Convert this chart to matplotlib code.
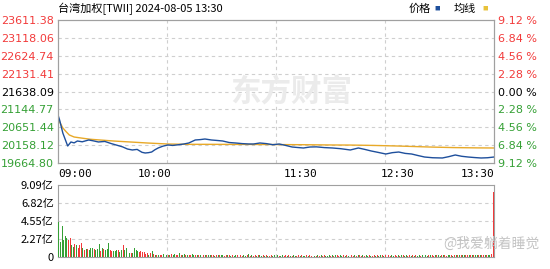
import matplotlib
matplotlib.use("Agg")
import matplotlib.pyplot as plt
import numpy as np

plt.rcParams['font.family'] = ['Noto Sans CJK SC', 'DejaVu Sans']

# 基本信息
title = "台湾加权[TWII] 2024-08-05 13:30"
prev_close = 21638.09
price_ticks = [23611.38, 23118.06, 22624.74, 22131.41, 21638.09,
               21144.77, 20651.44, 20158.12, 19664.80]

# 分时价格 (分钟, 点位)
t_price = [0, 1, 3, 6, 8, 10, 12, 15, 19, 22, 25, 29, 33, 36, 40, 43, 46, 49,
           52, 54, 56, 58, 60, 62, 65, 68, 71, 74, 78, 81, 85, 88, 91, 95, 99,
           102, 106, 110, 114, 118, 121, 125, 129, 133, 137, 141, 145, 149, 152,
           156, 160, 165, 170, 175, 181, 186, 190, 194, 198, 203, 207, 211, 215,
           219, 223, 227, 232, 238, 242, 246, 250, 254, 258, 262, 266, 270]
price = [20990, 20850, 20490, 20134, 20244, 20220, 20272, 20250, 20300, 20275,
         20245, 20260, 20200, 20162, 20110, 20051, 20024, 20040, 19960, 19941,
         19950, 19968, 20030, 20079, 20130, 20162, 20150, 20165, 20190, 20217,
         20300, 20310, 20327, 20300, 20285, 20272, 20230, 20217, 20200, 20190,
         20189, 20217, 20200, 20170, 20189, 20150, 20106, 20090, 20079, 20106,
         20110, 20090, 20079, 20060, 20024, 20079, 20040, 19996, 19960, 19913,
         19950, 19968, 19930, 19913, 19870, 19830, 19810, 19803, 19840, 19886,
         19850, 19830, 19815, 19803, 19810, 19830]

# 均线
t_avg = [0, 1, 3, 5, 7, 10, 15, 20, 26, 35, 45, 56, 68, 80, 91, 110, 130, 150,
         170, 181, 195, 210, 230, 245, 260, 270]
avg = [20907, 20800, 20631, 20530, 20438, 20382, 20350, 20320, 20300, 20270,
       20244, 20215, 20189, 20180, 20180, 20178, 20175, 20170, 20162, 20160,
       20150, 20134, 20106, 20090, 20082, 20079]

# 成交额 (亿), 每分钟一根
vol = [4.45, 1.93, 3.90, 2.10, 2.60, 2.40, 2.10, 2.40, 1.50, 1.30,
       1.60, 1.50, 1.10, 1.50, 1.80, 1.10, 0.90, 1.00, 1.00, 0.90,
       1.10, 1.10, 1.00, 0.85, 1.00, 1.60, 0.80, 1.10, 1.00, 0.90,
       0.95, 1.80, 0.90, 0.80, 0.75, 0.75, 0.90, 0.85, 0.60, 0.90,
       1.50, 0.90, 1.10, 0.60, 0.50, 0.50, 0.50, 1.10, 0.90, 0.75,
       0.60, 0.75, 0.65, 0.60, 0.40, 0.50, 0.30, 0.45, 0.75, 0.35,
       0.30, 0.25, 0.30, 0.30, 0.25, 0.35, 0.20, 0.30,
       0.30, 0.25, 0.40, 0.30, 0.35, 0.25, 0.30, 0.45, 0.30, 0.25, 0.35, 0.30, 0.25, 0.20, 0.30, 0.35, 0.25, 0.20, 0.30, 0.25,
       0.20, 0.25, 0.30, 0.20, 0.25, 0.20, 0.30, 0.25, 0.20, 0.15, 0.20, 0.25, 0.20, 0.30, 0.20, 0.15, 0.20, 0.25, 0.20, 0.15,
       0.20, 0.15, 0.20, 0.25, 0.15, 0.20, 0.15, 0.20, 0.15, 0.20, 0.35, 0.15, 0.20, 0.15, 0.20, 0.15, 0.20, 0.25, 0.15, 0.20,
       0.15, 0.20, 0.15, 0.15, 0.20, 0.15, 0.20, 0.15, 0.20, 0.15, 0.15, 0.20, 0.15, 0.20, 0.15, 0.20, 0.15, 0.15, 0.20, 0.15,
       0.15, 0.20, 0.15, 0.20, 0.15, 0.15, 0.20, 0.15, 0.20, 0.15, 0.20, 0.15, 0.15, 0.20, 0.15, 0.20, 0.15, 0.20, 0.15, 0.15,
       0.20, 0.15, 0.20, 0.15, 0.20, 0.25, 0.15, 0.20, 0.15, 0.20, 0.15, 0.20, 0.15, 0.15, 0.20, 0.15, 0.20, 0.15, 0.20, 0.30,
       0.15, 0.20, 0.15, 0.20, 0.15, 0.20, 0.15, 0.15, 0.20, 0.15, 0.20, 0.15, 0.20, 0.25, 0.15, 0.20, 0.15, 0.20, 0.15, 0.20,
       0.15, 0.20, 0.15, 0.20, 0.15, 0.20, 0.25, 0.15, 0.20, 0.15, 0.20, 0.15, 0.20, 0.15, 0.20, 0.15, 0.20, 0.15, 0.20, 0.15,
       0.20, 0.15, 0.20, 0.25, 0.20, 0.15, 0.20, 0.30, 0.20, 0.15, 0.20, 0.25, 0.20, 0.15, 0.20, 0.25, 0.20, 0.15, 0.20, 0.25,
       0.20, 0.25, 0.30, 0.20, 0.25, 0.20, 0.30, 0.25, 0.20, 0.25, 0.30, 0.25, 0.20, 0.25, 0.30, 0.25, 0.20, 0.25, 0.30, 0.25,
       0.30, 0.35,
       8.25]
# 涨跌方向: R 红 / G 绿
vol_dir = ("GGGGGGRRGG" "RGRRRGRGRG" "GGRGGGRGRG" "GGRRGGGRGG" "RGGRGRGGGG" "RRRRRRGRGR" "GRGRRGRG"
           "RGRGGRRGRGGRGRRGGRGR" "GRRGRGGRRGRGRGGRRGRG" "RGGRGRRGGRGRGRRGRGGR"
           "GRGRRGGRGRGGRRGRGRGG" "RRGRGGRGRRGGRGRGRRGG" "GRGRGRRGGRGRGGRRGRGR"
           "RGRGGRGRRGRGGRGRGRRG" "GRRGRGRGGRRGRGRGGRGR" "GGRGRRGRGGRGRRGGRGRG"
           "RGRGGRRGRGRGGRGRRGRG" "GR" "R")
vol_ticks = [0, 2.27, 4.55, 6.82, 9.09]
vol_labels = ["0", "2.27亿", "4.55亿", "6.82亿", "9.09亿"]

time_pos = [0, 60, 150, 210, 270]
time_labels = ["09:00", "10:00", "11:30", "12:30", "13:30"]

RED = '#f23a3a'
GREEN = '#35a035'
GRID = '#cfcfcf'

fig = plt.figure(figsize=(5.5, 2.69), dpi=100)
ax = fig.add_axes([58/550, 1-163/269, 436/550, 143/269])
axv = fig.add_axes([58/550, 1-257/269, 436/550, 72/269])

# 水印
fig.text(0.53, 1-92/269, "东方财富", fontsize=22, fontweight='bold',
         color='#ebebeb', ha='center', va='center', zorder=0)

ax.plot(t_price, price, color='#1e4f9c', lw=1.0, zorder=3)
ax.plot(t_avg, avg, color='#e8a928', lw=1.0, zorder=2)
ax.set_xlim(0, 270)
ax.set_ylim(price_ticks[-1], price_ticks[0])
ax.set_yticks(price_ticks)
ax.set_yticklabels([f"{v:.2f}" for v in price_ticks], family='DejaVu Sans', fontsize=8)
for lab, v in zip(ax.get_yticklabels(), price_ticks):
    lab.set_color(RED if v > prev_close + 0.01 else (GREEN if v < prev_close - 0.01 else 'black'))
ax.tick_params(axis='y', length=0, pad=3)
ax.set_xticks([])
for v in price_ticks[1:-1]:
    ax.axhline(v, color=GRID, lw=0.8, ls=(0, (3, 3)), zorder=1)
for q in [67.5, 135, 202.5]:
    ax.axvline(q, color=GRID, lw=0.8, ls=(0, (3, 3)), zorder=1)
ax.patch.set_alpha(0)

axr = ax.twinx()
axr.set_ylim(ax.get_ylim())
axr.set_yticks(price_ticks)
pct = [(v / prev_close - 1) * 100 for v in price_ticks]
axr.set_yticklabels([f"{abs(p):.2f} %" for p in pct], family='DejaVu Sans', fontsize=8)
for lab, p in zip(axr.get_yticklabels(), pct):
    lab.set_color(RED if p > 0.005 else (GREEN if p < -0.005 else 'black'))
axr.tick_params(axis='y', length=0, pad=3)

for a in (ax, axr):
    for s in a.spines.values():
        s.set_color('#a0a0a0')
        s.set_linewidth(0.8)

for x, lab in zip(time_pos, time_labels):
    ha = 'left' if x == 0 else ('right' if x == 270 else 'center')
    ax.text(x, -0.04, lab, transform=ax.get_xaxis_transform(), ha=ha, va='top',
            fontsize=8, family='DejaVu Sans Mono')

# 成交额
cols = [RED if c == 'R' else GREEN for c in vol_dir]
axv.bar(np.arange(len(vol)), vol, width=0.6, color=cols, linewidth=0, zorder=3)
axv.set_xlim(-0.5, 270.5)
axv.set_ylim(0, 9.09)
axv.set_yticks(vol_ticks)
axv.set_yticklabels(vol_labels, fontsize=8)
axv.tick_params(axis='y', length=0, pad=3)
axv.set_xticks([])
for v in vol_ticks[1:-1]:
    axv.axhline(v, color=GRID, lw=0.8, ls=(0, (3, 3)), zorder=1)
for q in [67.5, 135, 202.5]:
    axv.axvline(q, color=GRID, lw=0.8, ls=(0, (3, 3)), zorder=1)
for s in axv.spines.values():
    s.set_color('#a0a0a0')
    s.set_linewidth(0.8)

# 标题与图例
fig.text(58/550, 1-9/269, title, fontsize=8, ha='left', va='center')
fig.text(420/550, 1-9/269, "价格", fontsize=8, ha='center', va='center')
fig.text(437/550, 1-8/269, "■", fontsize=4, color='#1e4f9c', ha='center', va='center')
fig.text(465/550, 1-9/269, "均线", fontsize=8, ha='center', va='center')
fig.text(485/550, 1-8/269, "■", fontsize=4, color='#e8c23a', ha='center', va='center')

fig.text(540/550, 1-244/269, "@我爱躺着睡觉", fontsize=10, color='#c4c4c4',
         ha='right', va='center', zorder=5)

fig.savefig("out.png", dpi=100)
